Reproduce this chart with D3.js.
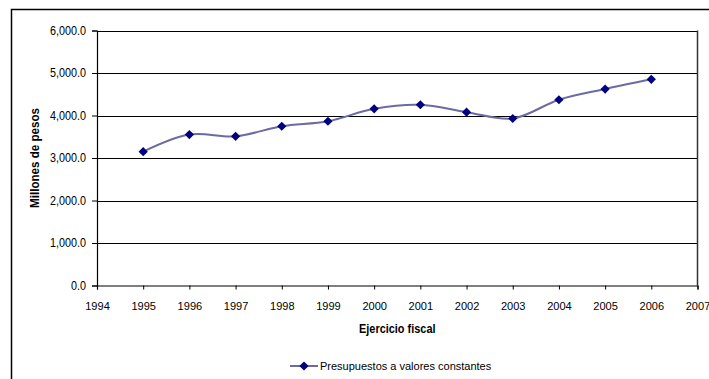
<!DOCTYPE html>
<html>
<head>
<meta charset="utf-8">
<script src="https://cdn.jsdelivr.net/npm/d3@7"></script>
<style>
  html, body { margin: 0; padding: 0; background: #fff; }
  svg { display: block; }
  text { font-family: "Liberation Sans", Arial, sans-serif; fill: #000; }
</style>
</head>
<body>
<svg id="chart" width="709" height="379"></svg>
<script>
// Presupuesto anual a valores constantes (millones de pesos)
const years = [1995, 1996, 1997, 1998, 1999, 2000, 2001, 2002, 2003, 2004, 2005, 2006];
const budget = [3149, 3551, 3511, 3747, 3865, 4158, 4253, 4078, 3929, 4371, 4622, 4851];
const xTicks = [1994, 1995, 1996, 1997, 1998, 1999, 2000, 2001, 2002, 2003, 2004, 2005, 2006, 2007];
const yTicks = [0, 1000, 2000, 3000, 4000, 5000, 6000];
const seriesName = "Presupuestos a valores constantes";
const xTitle = "Ejercicio fiscal";
const yTitle = "Millones de pesos";

const svg = d3.select("#chart");
const plot = { left: 97, right: 697.5, top: 30.5, bottom: 285.5 };

const x = d3.scaleLinear().domain([1994, 2007]).range([plot.left, plot.right]);
const y = d3.scaleLinear().domain([0, 6000]).range([plot.bottom, plot.top]);

// outer chart frame (open to the right and bottom)
svg.append("path")
  .attr("d", `M11.5,${379} V9.5 H709`)
  .attr("fill", "none").attr("stroke", "#000").attr("stroke-width", 1.5);

// horizontal gridlines
svg.append("g").selectAll("line").data(yTicks.filter(d => d > 0)).join("line")
  .attr("x1", plot.left).attr("x2", plot.right)
  .attr("y1", d => Math.round(y(d)) + 0.5).attr("y2", d => Math.round(y(d)) + 0.5)
  .attr("stroke", "#000").attr("stroke-width", 1);

// plot right border
svg.append("line")
  .attr("x1", plot.right).attr("x2", plot.right)
  .attr("y1", plot.top).attr("y2", plot.bottom)
  .attr("stroke", "#333").attr("stroke-width", 1.5);

// y axis (slightly condensed labels)
const yAxis = d3.axisLeft(y).tickValues(yTicks).tickSize(5).tickPadding(6)
  .tickFormat(d3.format(",.1f"));
const gy = svg.append("g").attr("transform", `translate(${plot.left},0)`).call(yAxis);
gy.select(".domain").attr("stroke", "#000").attr("stroke-width", 1.2);
gy.selectAll(".tick line").attr("stroke", "#000");
gy.selectAll(".tick text")
  .attr("font-size", 12)
  .attr("transform", function() {
    const tx = +d3.select(this).attr("x");
    return `translate(${tx},0) scale(0.9,1)`;
  })
  .attr("x", 0);

// x axis
const xAxis = d3.axisBottom(x).tickValues(xTicks).tickSize(4).tickPadding(12)
  .tickFormat(d3.format("d"));
const gx = svg.append("g").attr("transform", `translate(0,${plot.bottom})`).call(xAxis);
gx.select(".domain").attr("stroke", "#000").attr("stroke-width", 1.2);
gx.selectAll(".tick line").attr("stroke", "#000");
gx.selectAll(".tick text").attr("font-size", 11.5).attr("transform", "scale(0.96,1)");

// axis titles
svg.append("text")
  .attr("transform", `translate(${(plot.left + plot.right) / 2},333) scale(0.84,1)`)
  .attr("text-anchor", "middle").attr("font-size", 13).attr("font-weight", "bold")
  .text(xTitle);

svg.append("text")
  .attr("transform", `translate(39,158) rotate(-90) scale(0.86,1)`)
  .attr("text-anchor", "middle").attr("font-size", 13.5).attr("font-weight", "bold")
  .text(yTitle);

// series line
const line = d3.line().x((d, i) => x(years[i])).y(d => y(d)).curve(d3.curveCatmullRom.alpha(0.5));
svg.append("path").datum(budget)
  .attr("d", line)
  .attr("fill", "none").attr("stroke", "#6b6ba3").attr("stroke-width", 2);

// diamond markers
const diamond = "M0,-4.6 L4.6,0 L0,4.6 L-4.6,0 Z";
svg.append("g").selectAll("path").data(budget).join("path")
  .attr("transform", (d, i) => `translate(${x(years[i])},${y(d)})`)
  .attr("d", diamond).attr("fill", "#000080");

// legend
const lg = svg.append("g").attr("transform", "translate(0,366)");
lg.append("line").attr("x1", 290).attr("x2", 318).attr("y1", 0).attr("y2", 0)
  .attr("stroke", "#6b6ba3").attr("stroke-width", 2);
lg.append("path").attr("transform", "translate(304,0)").attr("d", diamond).attr("fill", "#000080");
lg.append("text").attr("x", 320).attr("y", 4).attr("font-size", 11).text(seriesName);
</script>
</body>
</html>
